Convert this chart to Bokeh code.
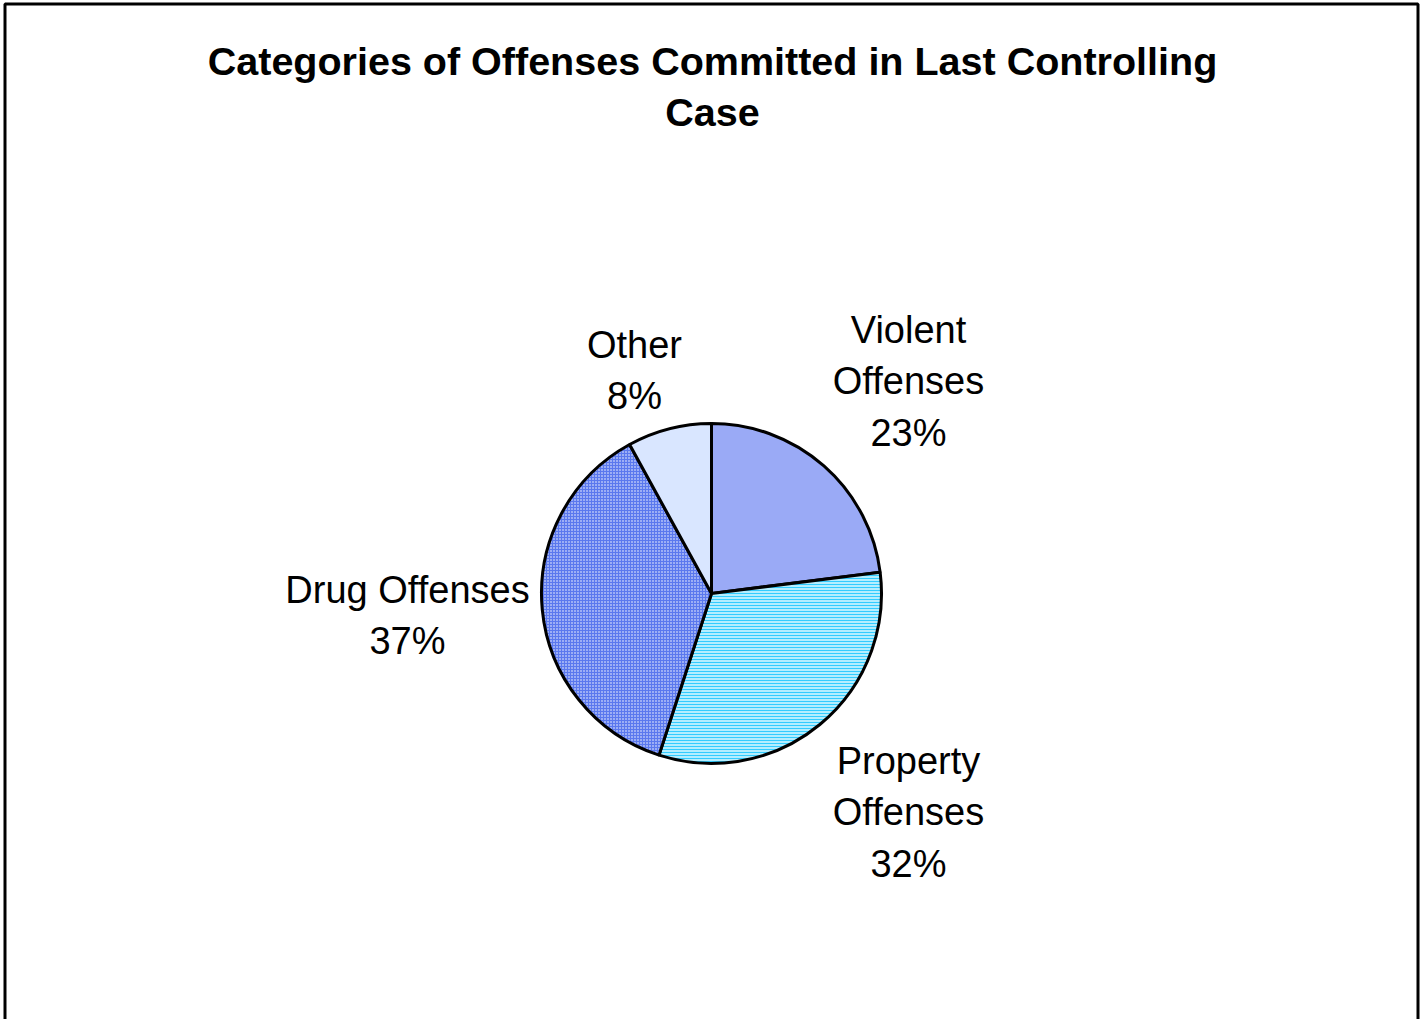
from math import pi
from bokeh.plotting import figure
from bokeh.models import Range1d, ColumnDataSource
from bokeh.core.properties import value
from bokeh.embed import file_html
from bokeh.resources import INLINE

# ---- data ----
categories = ["Violent Offenses", "Property Offenses", "Drug Offenses", "Other"]
percents = [23, 32, 37, 8]
label_names = ["Violent\nOffenses", "Property\nOffenses", "Drug Offenses", "Other"]
title_lines = "Categories of Offenses Committed in Last Controlling\nCase"

# ---- styling / layout ----
W, H = 1426, 1019
fills = ["#9aaaf6", "#b4eeff", "#5a78ee", "#d9e6ff"]
hatches = ["blank", "horizontal_line", "dot", "blank"]
hatch_colors = ["#8a9cf0", "#33ccff", "#ffffff", "#c8d8ff"]
cx, cy, r = 711, H - 593, 170
label_xy = [(908, H - 381), (908, H - 812), (407, H - 615), (634, H - 370)]

p = figure(width=W, height=H, output_backend="svg", toolbar_location=None,
           x_range=Range1d(0, W), y_range=Range1d(0, H), min_border=0)
p.axis.visible = False
p.grid.visible = False
p.outline_line_color = None
p.background_fill_color = "white"
p.border_fill_color = "white"

# chart frame
p.quad(left=[4.5], right=[1417.5], top=[H - 3.5], bottom=[-20],
       fill_color=None, line_color="black", line_width=3)

total = float(sum(percents))
starts, ends = [], []
a = pi / 2
for v in percents:
    starts.append(a)
    a -= v / total * 2 * pi
    ends.append(a)

src = ColumnDataSource(dict(start=starts, end=ends, fill=fills, hatch=hatches,
                            hcol=hatch_colors, cat=categories))
p.wedge(x=cx, y=cy, radius=r, start_angle="start", end_angle="end",
        direction="clock", source=src, fill_color="fill",
        hatch_pattern="hatch", hatch_color="hcol", hatch_scale=3, hatch_weight=1.0,
        line_color="black", line_width=3)

labels = [f"{n}\n{v}%" for n, v in zip(label_names, percents)]
p.text(x=[xy[0] for xy in label_xy], y=[xy[1] for xy in label_xy], text=labels,
       text_align="center", text_baseline="middle", text_font=value("Liberation Sans"),
       text_font_size="38px", text_color="black", text_line_height=1.22)

p.text(x=[712], y=[H - 86], text=[title_lines], text_align="center",
       text_baseline="middle", text_font=value("Liberation Sans"),
       text_font_size="39.5px", text_font_style="bold", text_color="black",
       text_line_height=1.18)

open("out.html", "w").write(file_html(p, INLINE))
